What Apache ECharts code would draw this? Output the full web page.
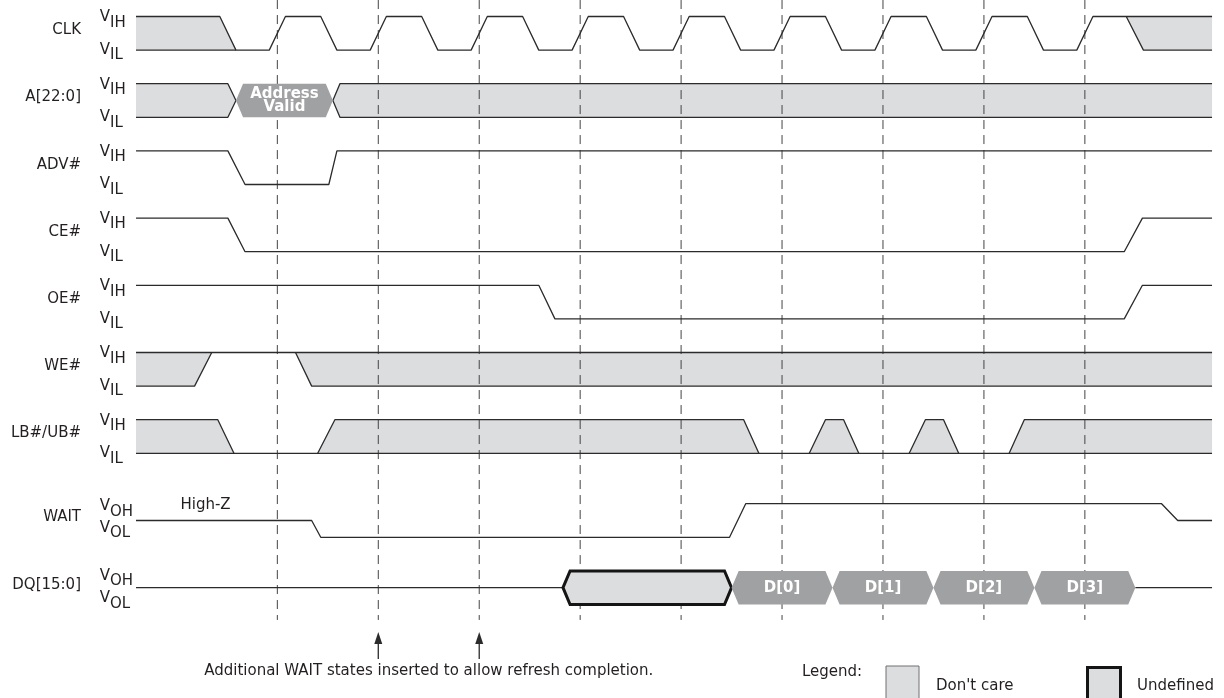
<!DOCTYPE html>
<html><head><meta charset="utf-8">
<script src="https://cdn.jsdelivr.net/npm/echarts@6/dist/echarts.min.js"></script>
<style>html,body{margin:0;padding:0;background:#fff}#c{width:1224px;height:698px}</style>
</head><body><div id="c"></div>
<script>
// ================= DATA =================
const signalNames = ['CLK','A[22:0]','ADV#','CE#','OE#','WE#','LB#/UB#','WAIT','DQ[15:0]'];
const levelSubs = [['IH','IL'],['IH','IL'],['IH','IL'],['IH','IL'],['IH','IL'],['IH','IL'],['IH','IL'],['OH','OL'],['OH','OL']];
const clockEdgeTimes = [100,200,300,400,500,600,700,800,900];

// waveform vertices: [time, level]  (level 1 = high, 0 = low, 0.5 = mid / High-Z)
const clkLines = [
  [[-40,1],[43,1],[59,0],[92,0],[108,1],[143,1],[159,0],[192,0],[208,1],[243,1],[259,0],[292,0],[308,1],[343,1],[359,0],[392,0],[408,1],[443,1],[459,0],[492,0],[508,1],[543,1],[559,0],[592,0],[608,1],[643,1],[659,0],[692,0],[708,1],[743,1],[759,0],[792,0],[808,1],[843,1],[859,0],[892,0],[908,1],[1026,1]],
  [[-40,0],[59,0]],
  [[941,1],[958,0],[1026,0]]
];
const clkDontCare = [
  [[-40,1],[43,1],[59,0],[-40,0]],
  [[941,1],[1026,1],[1026,0],[958,0]]
];
const addrLines = [
  [[-40,1],[51,1],[59,0.5],[51,0],[-40,0]],
  [[1026,1],[162,1],[155,0.5],[162,0],[1026,0]]
];
const addrDontCare = [
  [[-40,1],[51,1],[59,0.5],[51,0],[-40,0]],
  [[155,0.5],[162,1],[1026,1],[1026,0],[162,0]]
];
const advLines = [[[-40,1],[51,1],[68,0],[151,0],[159,1],[1026,1]]];
const ceLines  = [[[-40,1],[51,1],[68,0],[939,0],[957,1],[1026,1]]];
const oeLines  = [[[-40,1],[359,1],[375,0],[939,0],[957,1],[1026,1]]];
const weLines = [
  [[-40,1],[1026,1]],
  [[-40,0],[18,0],[35,1]],
  [[118,1],[134,0],[1026,0]]
];
const weDontCare = [
  [[-40,1],[35,1],[18,0],[-40,0]],
  [[118,1],[1026,1],[1026,0],[134,0]]
];
const lbLines = [
  [[-40,0],[1026,0]],
  [[-40,1],[41,1],[57,0]],
  [[140,0],[157,1],[562,1],[577,0]],
  [[627,0],[643,1],[661,1],[676,0]],
  [[726,0],[742,1],[760,1],[775,0]],
  [[825,0],[840,1],[1026,1]]
];
const lbDontCare = [
  [[-40,1],[41,1],[57,0],[-40,0]],
  [[140,0],[157,1],[562,1],[577,0]],
  [[627,0],[643,1],[661,1],[676,0]],
  [[726,0],[742,1],[760,1],[775,0]],
  [[825,0],[840,1],[1026,1],[1026,0]]
];
const waitLines = [[[-40,0.5],[134,0.5],[143,0],[548,0],[564,1],[976,1],[992,0.5],[1026,0.5]]];
const dqLines = [[[-40,0.5],[383,0.5]],[[950,0.5],[1026,0.5]]];

// bus cells
const busRows   = [1, 8, 8, 8, 8, 8];
const busStarts = [59, 383, 550, 650, 750, 850];
const busEnds   = [155, 550, 650, 750, 850, 950];
const busLabels = ['Address\nValid', '', 'D[0]', 'D[1]', 'D[2]', 'D[3]'];
const busKinds  = ['valid', 'undefined', 'valid', 'valid', 'valid', 'valid'];

const highZLabel = 'High-Z';
const highZTime = 4;
const noteText = 'Additional WAIT states inserted to allow refresh completion.';
const arrowTimes = [200, 300];
const legendTitle = 'Legend:';
const legendLabels = ["Don't care", 'Undefined'];

// ================= LAYOUT / STYLE =================
const SLOT = [0,1,2,3,4,5,6,7.25,8.25];
const vOf = (row, level) => 2*SLOT[row] + (1 - level);
const LINE = '#2b2b2b', TEXT = '#231f20', DC = '#dcdddf', BUS = '#a0a1a3';
const FONT = 'DejaVu Sans';
const FS = 15;
const NAME_T = -94.5, V_T = -65.8;
const LABEL_DY = [[1,0],[1,0],[1,0],[1,0],[1,0],[1,0],[1,0],[2.7,-9.5],[5,-6]];
const SLANT = 7;

const waves = [
  {row:0, lines:clkLines, dc:clkDontCare},
  {row:1, lines:addrLines, dc:addrDontCare},
  {row:2, lines:advLines, dc:[]},
  {row:3, lines:ceLines, dc:[]},
  {row:4, lines:oeLines, dc:[]},
  {row:5, lines:weLines, dc:weDontCare},
  {row:6, lines:lbLines, dc:lbDontCare},
  {row:7, lines:waitLines, dc:[]},
  {row:8, lines:dqLines, dc:[]}
];

const series = [];
const txtEl = (text, x, y, align, extra) => ({
  type:'text', x, y, silent:true,
  style: Object.assign({text, fill:TEXT, fontSize:FS, fontFamily:FONT, align, verticalAlign:'middle', textAlign:align, textVerticalAlign:'middle'}, extra||{})
});

// don't-care fills
const dcPolys = [];
waves.forEach(w => w.dc.forEach(p => dcPolys.push(p.map(([t,l]) => [t, vOf(w.row,l)]))));
series.push({
  type:'custom', z:2, silent:true, animation:false, encode:{x:0,y:1},
  data: dcPolys.map((p,i) => [p[0][0], p[0][1], i]),
  renderItem:(params, api) => {
    const poly = dcPolys[api.value(2)];
    return {type:'polygon', shape:{points: poly.map(p => api.coord(p))}, style:{fill:DC}};
  }
});

// dashed clock reference lines
clockEdgeTimes.forEach(t => series.push({
  type:'line', z:3, silent:true, animation:false, showSymbol:false, symbol:'none',
  data:[[t,-0.49],[t,17.96]],
  lineStyle:{color:'#444444', width:1, type:[9,6]}
}));

// waveform lines
waves.forEach(w => w.lines.forEach(pl => series.push({
  type:'line', z:4, silent:true, animation:false, showSymbol:false, symbol:'none',
  data: pl.map(([t,l]) => [t, vOf(w.row,l)]),
  lineStyle:{color:LINE, width:1.3}
})));

// bus cells
series.push({
  type:'custom', z:5, silent:true, animation:false, encode:{x:0,y:1},
  data: busStarts.map((s,i) => [s, vOf(busRows[i],0.5), i]),
  renderItem:(params, api) => {
    const i = api.value(2), r = busRows[i], s = busStarts[i], e = busEnds[i];
    const pts = [[s,.5],[s+SLANT,1],[e-SLANT,1],[e,.5],[e-SLANT,0],[s+SLANT,0]].map(([t,l]) => api.coord([t, vOf(r,l)]));
    const c = api.coord([(s+e)/2, vOf(r,0.5)]);
    const undef = busKinds[i] === 'undefined';
    const children = [{type:'polygon', shape:{points:pts},
      style: undef ? {fill:DC, stroke:'#151515', lineWidth:3, lineJoin:'miter'} : {fill:BUS}}];
    if (busLabels[i]) children.push(txtEl(busLabels[i], c[0], c[1], 'center',
      {fill:'#ffffff', fontWeight:'bold', fontSize:15, lineHeight:13}));
    return {type:'group', children};
  }
});

// signal names and level labels
series.push({
  type:'custom', z:6, silent:true, animation:false, encode:{x:0,y:1},
  data: signalNames.map((n,i) => [0, vOf(i,0.5), i]),
  renderItem:(params, api) => {
    const r = api.value(2);
    const mid = api.coord([NAME_T, vOf(r,0.5)]);
    const hi = api.coord([V_T, vOf(r,1)]);
    const lo = api.coord([V_T, vOf(r,0)]);
    const dy = LABEL_DY[r];
    const ch = [
      txtEl(signalNames[r], mid[0], mid[1]-3, 'right'),
      txtEl('V', hi[0], hi[1]+dy[0], 'right'),
      txtEl(levelSubs[r][0], hi[0], hi[1]+dy[0]+5.5, 'left'),
      txtEl('V', lo[0], lo[1]+dy[1], 'right'),
      txtEl(levelSubs[r][1], lo[0], lo[1]+dy[1]+5.5, 'left')
    ];
    if (r === 7) {
      const hz = api.coord([highZTime, vOf(7,0.95)]);
      ch.push(txtEl(highZLabel, hz[0], hz[1], 'left'));
    }
    return {type:'group', children:ch};
  }
});

// arrows + note
series.push({
  type:'custom', z:6, silent:true, animation:false, encode:{x:0,y:1},
  data: arrowTimes.map((t,i) => [t, 18.3, i]),
  renderItem:(params, api) => {
    const t = arrowTimes[api.value(2)];
    const tip = api.coord([t, 18.32]);
    const tail = api.coord([t, 19.12]);
    const ch = [
      {type:'line', shape:{x1:tip[0], y1:tip[1]+8, x2:tail[0], y2:tail[1]}, style:{stroke:LINE, lineWidth:1.3}},
      {type:'polygon', shape:{points:[[tip[0],tip[1]],[tip[0]-4,tip[1]+12],[tip[0]+4,tip[1]+12]]}, style:{fill:LINE}}
    ];
    if (api.value(2) === 0) {
      const c = api.coord([(arrowTimes[0]+arrowTimes[1])/2, 19.48]);
      ch.push(txtEl(noteText, c[0], c[1], 'center'));
    }
    return {type:'group', children:ch};
  }
});

const chart = echarts.init(document.getElementById('c'), null, {renderer:'canvas'});
chart.setOption({
  animation:false,
  grid:{left:0, right:0, top:0, bottom:0},
  xAxis:{type:'value', min:-174.76, max:1037.84, show:false},
  yAxis:{type:'value', min:-0.491, max:20.283, inverse:true, show:false},
  series,
  graphic:[
    {type:'text', left:802, top:665, style:{text:legendTitle, fill:TEXT, fontSize:FS, fontFamily:FONT}},
    {type:'rect', shape:{x:886, y:666, width:33, height:40}, style:{fill:DC, stroke:'#707070', lineWidth:1}},
    {type:'text', left:936, top:679, style:{text:legendLabels[0], fill:TEXT, fontSize:FS, fontFamily:FONT}},
    {type:'rect', shape:{x:1087.5, y:667.5, width:33, height:40}, style:{fill:DC, stroke:'#151515', lineWidth:3}},
    {type:'text', left:1137, top:679, style:{text:legendLabels[1], fill:TEXT, fontSize:FS, fontFamily:FONT}}
  ]
});
</script></body></html>
